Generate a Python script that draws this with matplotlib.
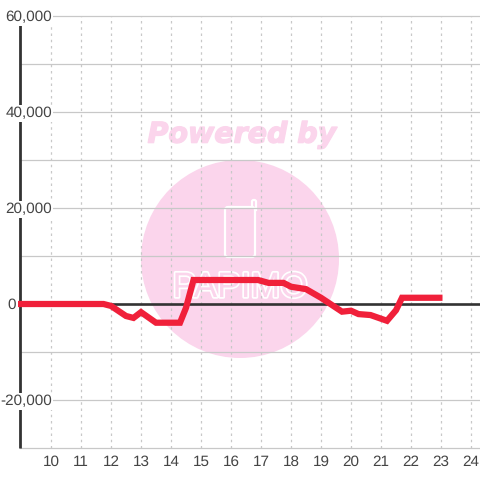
import matplotlib
matplotlib.use('Agg')
import matplotlib.pyplot as plt
import matplotlib.patheffects as pe
from matplotlib.patches import Circle, FancyBboxPatch
from matplotlib.transforms import Affine2D

x_vals = [8.9, 11.75, 12.0, 12.5, 12.75, 13.0, 13.5, 14.3, 14.5, 14.75, 16.9, 17.25,
          17.75, 18.0, 18.5, 19.0, 19.7, 20.0, 20.25, 20.65, 21.2, 21.5, 21.7, 23.05]
y_vals = [0, 0, -400, -2500, -2900, -1700, -3900, -3900, -800, 5000, 5000, 4400,
          4400, 3600, 3100, 1300, -1600, -1400, -2100, -2300, -3500, -1300, 1300, 1300]
x_ticks = list(range(10, 25))
y_labels = [60000, 40000, 20000, 0, -20000]
y_grid = list(range(-30000, 70000, 10000))

plt.rcParams['text.hinting'] = 'none'
plt.rcParams['font.family'] = ['Liberation Sans', 'DejaVu Sans']
grey = '#c8c8c8'
pink = '#fbd5ec'

fig = plt.figure(figsize=(4.8, 4.8), dpi=100)
ax = fig.add_axes([0, 0, 1, 1])
# whole figure is the axes: one x unit is 30 px, 20000 is 96 px
ax.set_xlim(10 - 51 / 30, 10 + 429 / 30)
ax.set_ylim(-(480 - 304) / 96 * 20000, 304 / 96 * 20000)
ax.axis('off')

# watermark is placed in pixels, y from the top
px = Affine2D().scale(1, -1).translate(0, 480)
ax.add_patch(Circle((240, 259), 99, color=pink, lw=0, transform=px, zorder=1))
ax.add_patch(FancyBboxPatch((225, 207), 30, 50, boxstyle='round,pad=0,rounding_size=3',
                            fc='none', ec='white', lw=1.6, transform=px, zorder=1.5))
ax.plot([252, 252, 253, 255, 256, 256], [206, 201, 200, 200, 201, 210], color='white', lw=1.6,
        transform=px, zorder=1.5)
ax.text(242, 135, 'Powered by', transform=px, color=pink, fontsize=20.5, fontweight='bold',
        style='italic', family='DejaVu Sans', ha='center', va='center', zorder=1.5,
        path_effects=[pe.withStroke(linewidth=1, foreground=pink)])
ax.text(240, 288, 'PAPIMO', transform=px, color=pink, fontsize=25.5, family='Liberation Sans',
        ha='center', va='center', zorder=1.5,
        path_effects=[pe.withStroke(linewidth=2.5, foreground='white')])

for v in y_grid:
    ax.axhline(v, xmin=20 / 480, xmax=1, color=grey, lw=0.9, zorder=2)
for v in x_ticks:
    ax.plot([v, v], [-30000, 60000], color=grey, lw=0.9, ls=(0, (2, 3)), zorder=2)
    ax.text(v, -33000, str(v), color='#444444', fontsize=11, ha='center', va='center', zorder=6)

ax.axhline(0, xmin=20 / 480, xmax=1, color='#333333', lw=1.9, zorder=3)
x_left = 10 - 31 / 30
ax.plot([x_left, x_left], [-30000, 58500], color='#333333', lw=2, solid_capstyle='butt', zorder=3)

for v in y_labels:
    # labels end at 52 px, only the zero sits left of the axis
    right = 16 if v == 0 else 52
    ax.text(10 + (right - 51) / 30, v - 300, f'{v:,}', color='#444444', fontsize=11, ha='right',
            va='center', zorder=4, bbox=dict(fc='white', ec='none', pad=1))

ax.plot(x_vals, y_vals, color='#f0203a', lw=4.5, solid_capstyle='butt', solid_joinstyle='miter', zorder=5)

fig.savefig('out.png', dpi=100)
